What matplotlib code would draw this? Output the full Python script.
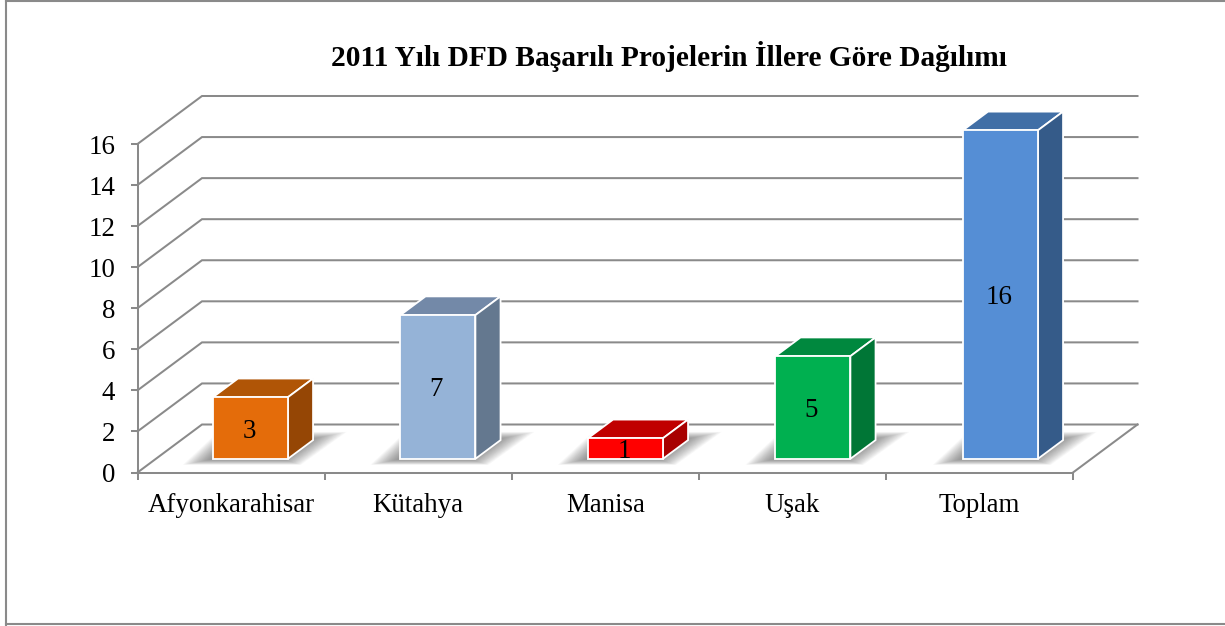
import matplotlib
matplotlib.use("Agg")
import matplotlib.pyplot as plt
from matplotlib.patches import Polygon
from matplotlib.lines import Line2D

categories = ["Afyonkarahisar", "Kütahya", "Manisa", "Uşak", "Toplam"]
values = [3, 7, 1, 5, 16]
front_colors = ["#E46C0A", "#95B3D7", "#FF0000", "#00B050", "#558ED5"]
top_colors = ["#B05506", "#7389A8", "#C00000", "#00883E", "#416FA6"]
side_colors = ["#954605", "#64788F", "#A80000", "#007636", "#355B89"]
y_ticks = list(range(0, 17, 2))
title = "2011 Yılı DFD Başarılı Projelerin İllere Göre Dağılımı"

W, H = 1225, 626
plt.rcParams["font.family"] = ["Liberation Serif", "DejaVu Serif"]
fig = plt.figure(figsize=(W / 100, H / 100), dpi=100, facecolor="white")

L, R, B, T = 137.5, 1073.0, 472.5, 144.0
ax = fig.add_axes([L / W, 1 - B / H, (R - L) / W, (B - T) / H])
ax.set_xlim(0, len(categories))
ax.set_ylim(0, 16)
ax.patch.set_visible(False)

ux = (R - L) / len(categories)   # pixels per category
uy = (B - T) / 16                # pixels per value unit
GRID = "#8A8A8A"
LW = 1.45
DX, DY = 64.5 / ux, 48 / uy      # full chart depth, data units
FRONT_X, FRONT_Y, DEPTH = 0.30, 0.285, 0.39   # bar position and depth as shares of it
BAR_W = 75 / ux
STEP = 187.5 / ux

# walls and floor
for t in y_ticks:
    ax.plot([0, DX, len(categories) + DX], [t, t + DY, t + DY], color=GRID, lw=LW,
            clip_on=False, zorder=1, solid_joinstyle="miter")
ax.plot([len(categories), len(categories) + DX], [0, DY], color=GRID, lw=LW, clip_on=False, zorder=1)

xs = [0.5 + i * STEP + FRONT_X * DX for i in range(len(values))]

# soft shadows: many faint nested shapes
shadow_shape = [(-30, -6), (2, 24), (99, 27), (134, 27), (88, -6)]
for x in xs:
    x0 = x - BAR_W / 2
    y0 = FRONT_Y * DY
    cx, cy = 42, 8
    n = 30
    for k in range(n):
        s = 1 - 0.6 * k / n
        pts = [(x0 + (cx + (px - cx) * s) / ux, y0 + (cy + (py - cy) * s) / uy) for px, py in shadow_shape]
        ax.add_patch(Polygon(pts, closed=True, facecolor="#303030", edgecolor="none",
                             alpha=0.032, clip_on=False, zorder=2))

# bars
ax.bar(xs, values, width=BAR_W, bottom=FRONT_Y * DY, color=front_colors, edgecolor="white",
       linewidth=1.3, zorder=4, clip_on=False)
for x, v, tc, sc in zip(xs, values, top_colors, side_colors):
    xl, xr = x - BAR_W / 2, x + BAR_W / 2
    yb, yt = FRONT_Y * DY, FRONT_Y * DY + v
    ddx, ddy = DEPTH * DX, DEPTH * DY
    ax.add_patch(Polygon([(xl, yt), (xr, yt), (xr + ddx, yt + ddy), (xl + ddx, yt + ddy)], closed=True,
                         facecolor=tc, edgecolor="white", lw=1.3, clip_on=False, zorder=3))
    ax.add_patch(Polygon([(xr, yb), (xr + ddx, yb + ddy), (xr + ddx, yt + ddy), (xr, yt)], closed=True,
                         facecolor=sc, edgecolor="white", lw=1.3, clip_on=False, zorder=3))
    ax.text(x - 1.5 / ux, yb + v / 2 - 3 / uy, str(v), ha="center", va="center", fontsize=19.4,
            color="black", zorder=6)

# axes
for s in ("top", "right"):
    ax.spines[s].set_visible(False)
for s in ("left", "bottom"):
    ax.spines[s].set_color(GRID)
    ax.spines[s].set_linewidth(LW)
    ax.spines[s].set_zorder(1)
ax.set_yticks(y_ticks)
ax.set_yticklabels([str(t) for t in y_ticks], fontsize=19.4, color="black")
ax.set_xticks(range(len(categories) + 1))
ax.set_xticklabels([])
ax.set_xticks([i + 0.5 for i in range(len(categories))], minor=True)
ax.set_xticklabels(categories, minor=True, fontsize=19.4, color="black")
ax.tick_params(axis="y", length=5, width=LW, color=GRID, pad=11)
ax.tick_params(axis="x", which="major", length=5, width=LW, color=GRID)
ax.tick_params(axis="x", which="minor", length=0, pad=15)

fig.text(669 / W, 1 - 57 / H, title, ha="center", va="center", fontsize=21.2, fontweight="bold", color="black")

# chart frame
frame = "#8A8A8A"
fig.add_artist(Line2D([6.2 / W, 6.2 / W], [0, 1 - 0.4 / H], color=frame, lw=1.5))
fig.add_artist(Line2D([6.2 / W, 1], [1 - 0.6 / H, 1 - 0.6 / H], color=frame, lw=1.5))
fig.add_artist(Line2D([6.2 / W, 1], [1 - 624 / H, 1 - 624 / H], color=frame, lw=1.5))

fig.savefig("out.png", dpi=100)
